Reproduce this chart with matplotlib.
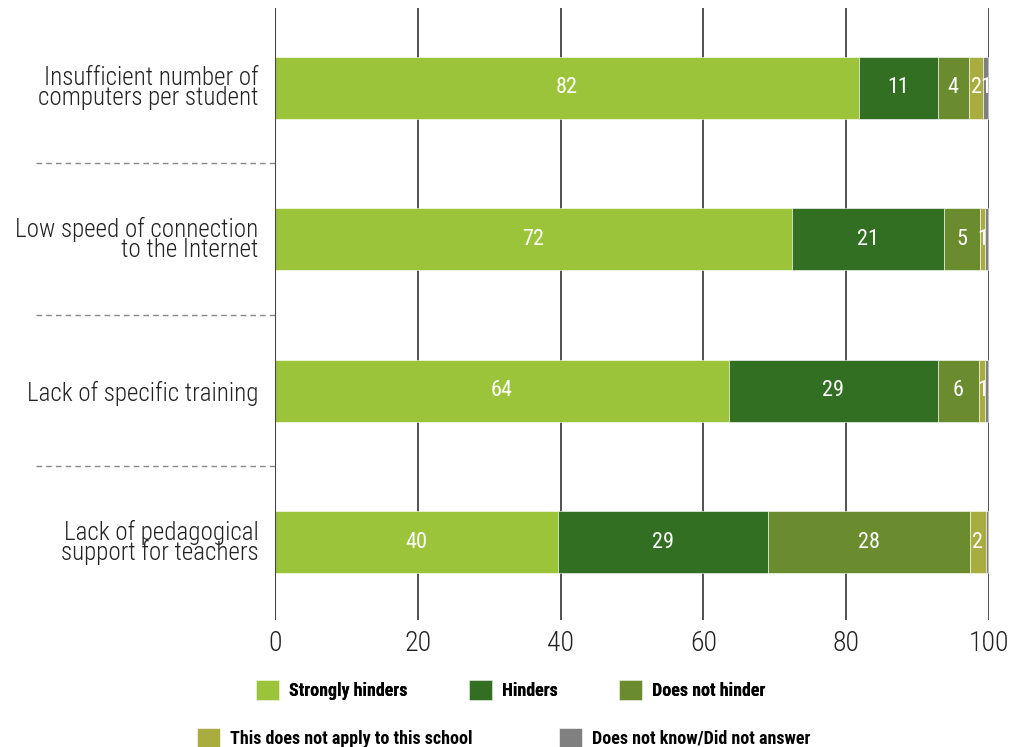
import matplotlib

matplotlib.use("Agg")
import matplotlib.pyplot as plt
import numpy as np

plt.rcParams["font.family"] = ["Roboto Condensed", "Noto Sans Condensed", "Liberation Sans Narrow", "Noto Sans", "DejaVu Sans"]
plt.rcParams["font.stretch"] = "condensed"

CATEGORIES = [
    "Insufficient number of\ncomputers per student",
    "Low speed of connection\nto the Internet",
    "Lack of specific training",
    "Lack of pedagogical\nsupport for teachers",
]
SERIES = [
    "Strongly hinders",
    "Hinders",
    "Does not hinder",
    "This does not apply to this school",
    "Does not know/Did not answer",
]
STRONGLY = [81.8, 72.4, 63.6, 39.7]
HINDERS = [11.0, 21.3, 29.2, 29.4]
NOT_HINDER = [4.4, 5.0, 5.8, 28.2]
NOT_APPLY = [2.0, 0.7, 0.9, 2.3]
NO_ANSWER = [0.7, 0.4, 0.4, 0.3]
COLORS = ["#9bc43b", "#336f22", "#6a8c2e", "#a9ac3e", "#808080"]
XTICKS = [0, 20, 40, 60, 80, 100]

fig = plt.figure(figsize=(10.26, 7.47), dpi=100)
ax = fig.add_axes([0.268, 0.170, 0.696, 0.819])

y = np.arange(len(CATEGORIES))
left = np.zeros(len(CATEGORIES))
containers = []
for values, color in zip([STRONGLY, HINDERS, NOT_HINDER, NOT_APPLY, NO_ANSWER], COLORS):
    values = np.array(values)
    bars = ax.barh(y, values, left=left, height=0.41, color=color,
                   edgecolor="white", linewidth=0.4, zorder=2)
    containers.append(bars)
    for yi, l, v in zip(y, left, values):
        if round(v) >= 1:
            ax.text(l + v / 2, yi, f"{round(v):d}", ha="center", va="center",
                    color="white", fontsize=16, zorder=3)
    left = left + values

ax.set_xlim(0, 100)
ax.set_ylim(3.515, -0.525)
ax.set_xticks(XTICKS)
ax.set_xticklabels([str(t) for t in XTICKS], fontsize=20, color="#222222", fontweight="light")
ax.set_yticks(y)
ax.set_yticklabels(CATEGORIES, fontsize=18, color="#222222", linespacing=0.78, fontweight="light")
ax.tick_params(axis="both", length=0)
ax.tick_params(axis="y", pad=12)
ax.tick_params(axis="x", pad=7)

for spine in ax.spines.values():
    spine.set_visible(False)
ax.grid(axis="x", color="#333333", linewidth=1.2, zorder=0)
ax.set_axisbelow(True)
ax.axvline(0, color="#444444", linewidth=1.5, zorder=4)

trans = matplotlib.transforms.blended_transform_factory(ax.transAxes, ax.transData)
for sep in [0.5, 1.5, 2.5]:
    ax.plot([-0.335, 0], [sep, sep], transform=trans, color="#888888",
            linestyle=(0, (4, 3)), linewidth=1, clip_on=False)

leg_font = {"size": 13, "weight": "bold"}
leg1 = fig.legend(containers[:3], SERIES[:3], loc="center left",
                  bbox_to_anchor=(0.234, 0.076), ncol=3, frameon=False,
                  prop=leg_font, handlelength=1.28, handleheight=1.28,
                  columnspacing=3.4, handletextpad=0.55)
fig.legend(containers[3:], SERIES[3:], loc="center left",
           bbox_to_anchor=(0.176, 0.012), ncol=2, frameon=False,
           prop=leg_font, handlelength=1.28, handleheight=1.28,
           columnspacing=4.8, handletextpad=0.55)
fig.add_artist(leg1)

fig.savefig("out.png", dpi=100)
